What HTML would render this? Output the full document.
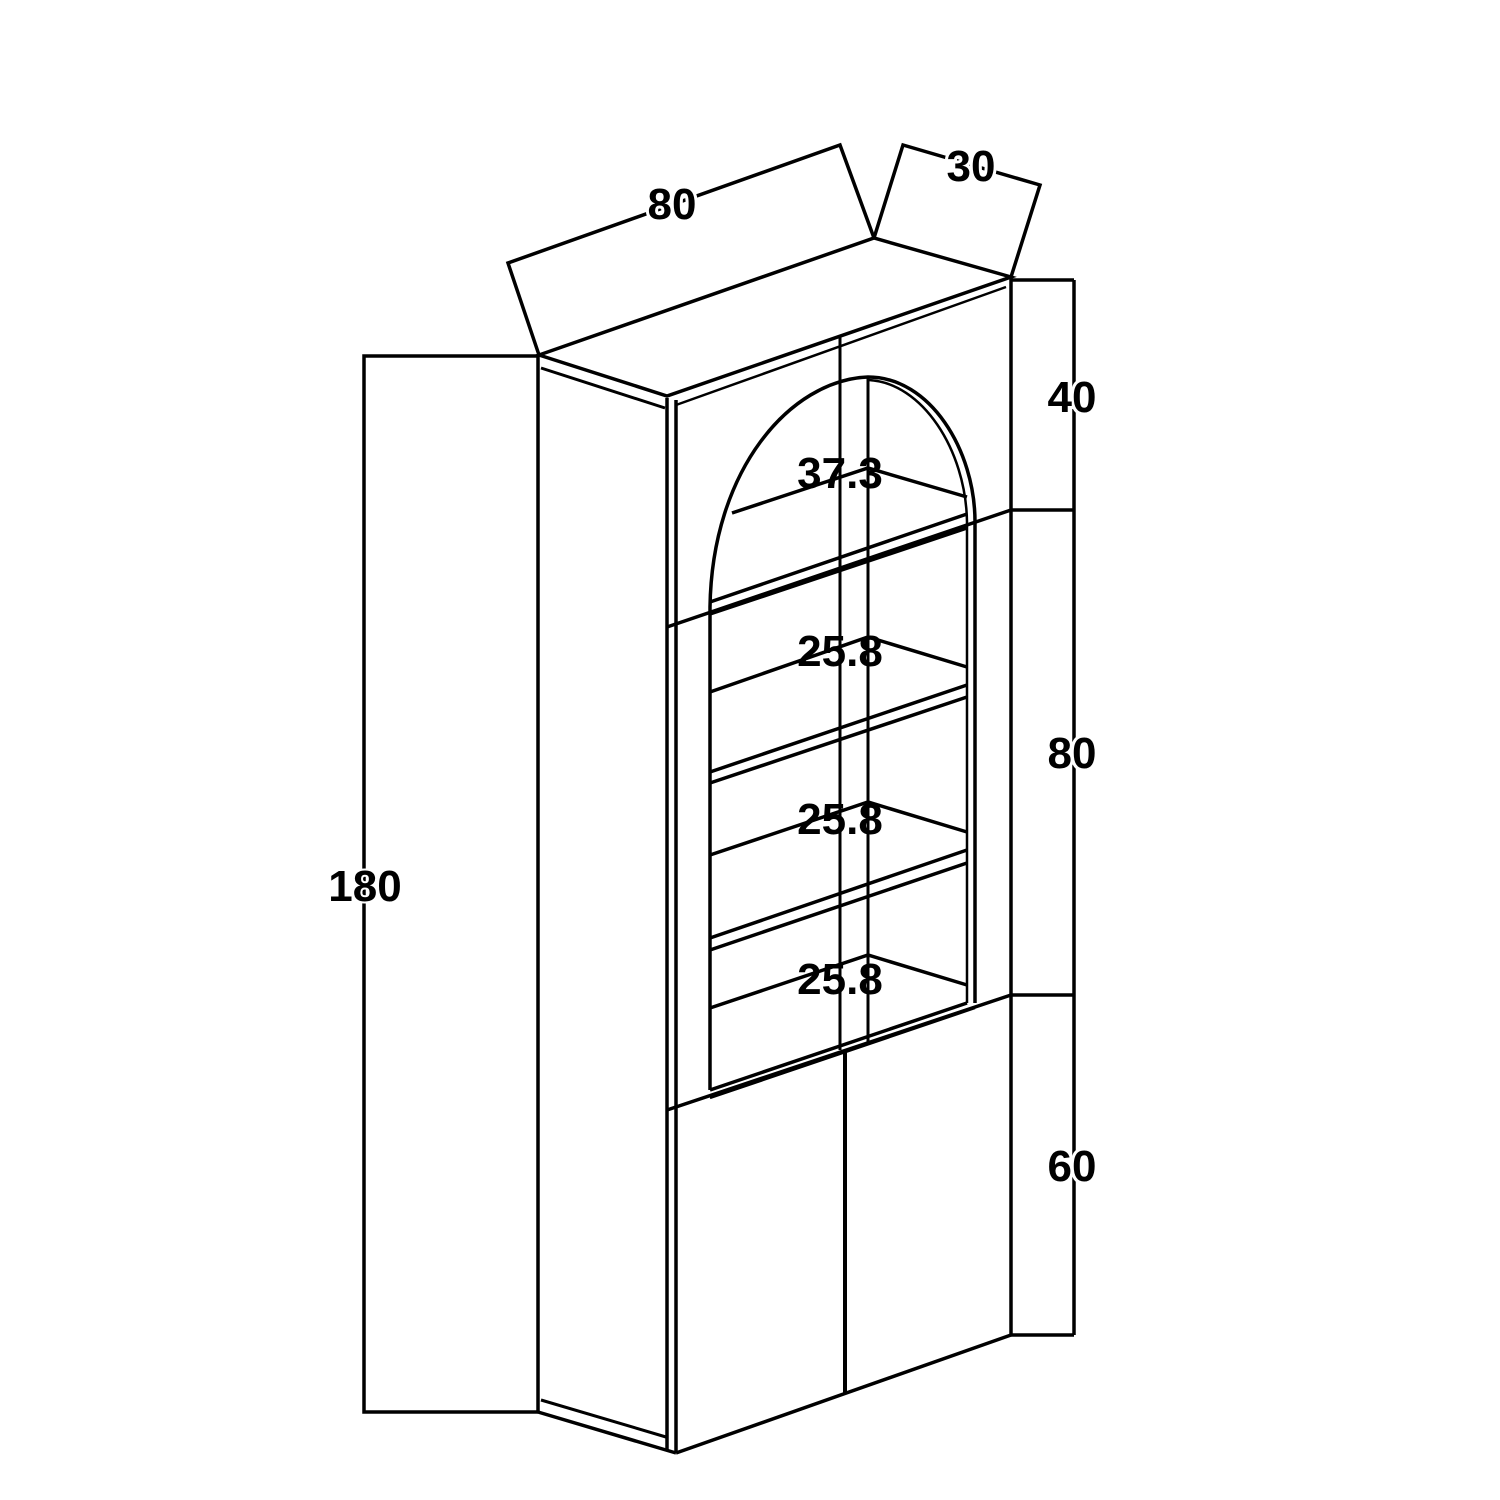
<!DOCTYPE html>
<html><head><meta charset="utf-8"><style>
html,body{margin:0;padding:0;background:#fff}
svg{display:block}
text{font-family:"Liberation Sans",sans-serif;font-weight:bold;fill:#000}
</style></head><body>
<svg width="1500" height="1500" viewBox="0 0 1500 1500" xmlns="http://www.w3.org/2000/svg">
<g fill="none" stroke="#000" stroke-width="3.5" stroke-linejoin="miter">
<polyline points="539,355 508,263 840,145 874,238"/>
<polyline points="874,238 903,145 1040,185 1011,277"/>
<polygon points="539,355 667,396 1011,277 874,238"/>
<line x1="676" y1="405" x2="1006" y2="287" stroke-width="2.5"/>
<line x1="538" y1="355" x2="538" y2="1412"/>
<line x1="541" y1="368" x2="665" y2="408" stroke-width="3"/>
<line x1="538" y1="1412" x2="676" y2="1453"/>
<line x1="541" y1="1400" x2="666" y2="1437" stroke-width="3"/>
<line x1="667" y1="398" x2="667" y2="1450"/>
<line x1="676" y1="400" x2="676" y2="1453"/>
<line x1="1011" y1="277" x2="1011" y2="1335"/>
<line x1="676" y1="1453" x2="1011" y2="1335"/>
<line x1="667" y1="627" x2="1011" y2="510"/>
<line x1="667" y1="1110" x2="1011" y2="995"/>
<line x1="710" y1="1098" x2="975" y2="1008" stroke-width="2.5"/>
<path d="M710,1090 L710,607 C712,470 790,380 868,377 C930,377 975,450 975,522 L975,1003"/>
<path d="M868,380 C922,382 966,450 967,522 L967,1003" stroke-width="2.5"/>
<line x1="710" y1="1090" x2="967" y2="1003"/>
<line x1="840" y1="336" x2="840" y2="1050" stroke-width="3"/>
<line x1="868" y1="377" x2="868" y2="1045" stroke-width="3"/>
<line x1="845" y1="1052" x2="845" y2="1394" stroke-width="4"/>
<polyline points="732,513 868,468 967,497"/>
<polyline points="710,692 868,637 967,667"/>
<polyline points="710,855 868,802 967,832"/>
<polyline points="710,1008 868,955 967,985"/>
<line x1="710" y1="602" x2="967" y2="514"/>
<line x1="710" y1="614" x2="967" y2="528"/>
<line x1="710" y1="772" x2="967" y2="685"/>
<line x1="710" y1="783" x2="967" y2="697"/>
<line x1="710" y1="938" x2="967" y2="850"/>
<line x1="710" y1="950" x2="967" y2="863"/>
<polyline points="538,356 364,356 364,1412 538,1412"/>
<line x1="1074" y1="280" x2="1074" y2="1335"/>
<line x1="1011" y1="280" x2="1074" y2="280"/>
<line x1="1011" y1="510" x2="1074" y2="510"/>
<line x1="1011" y1="995" x2="1074" y2="995"/>
<line x1="1011" y1="1335" x2="1074" y2="1335"/>
</g>
<g font-size="44">
<text x="672" y="219" text-anchor="middle" style="paint-order:stroke" stroke="#fff" stroke-width="6">80</text>
<text x="971" y="181" text-anchor="middle" style="paint-order:stroke" stroke="#fff" stroke-width="6">30</text>
<text x="365" y="901" text-anchor="middle" style="paint-order:stroke" stroke="#fff" stroke-width="4">180</text>
<text x="1072" y="412" text-anchor="middle" style="paint-order:stroke" stroke="#fff" stroke-width="6">40</text>
<text x="1072" y="768" text-anchor="middle" style="paint-order:stroke" stroke="#fff" stroke-width="6">80</text>
<text x="1072" y="1181" text-anchor="middle" style="paint-order:stroke" stroke="#fff" stroke-width="6">60</text>
<text x="840" y="488" text-anchor="middle">37.3</text>
<text x="840" y="666" text-anchor="middle">25.8</text>
<text x="840" y="834" text-anchor="middle">25.8</text>
<text x="840" y="994" text-anchor="middle">25.8</text>
</g>
</svg>
</body></html>
